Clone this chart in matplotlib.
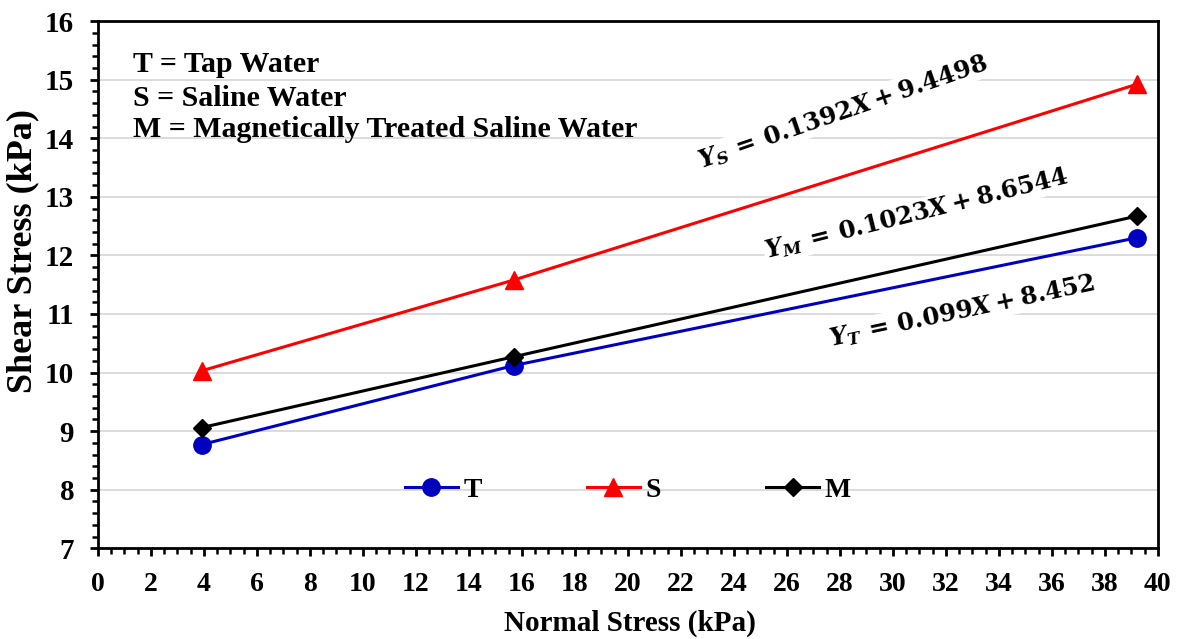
import numpy as np
import matplotlib
matplotlib.use("Agg")
import matplotlib.pyplot as plt
from matplotlib.ticker import MultipleLocator

# data
normal_stress = [3.92, 15.7, 39.2]
tap = [8.77, 10.12, 12.30]
saline = [10.03, 11.58, 14.92]
magnetic = [9.06, 10.27, 12.67]

series_names = ["T", "S", "M"]
notes = ["T = Tap Water", "S = Saline Water", "M = Magnetically Treated Saline Water"]
equations = [r"$\mathbfit{Y}_{\mathbfit{S}}\,=\,\mathbf{0.1392}\mathbfit{X} + \mathbf{9.4498}$",
             r"$\mathbfit{Y}_{\mathbfit{M}}\,=\,\mathbf{0.1023}\mathbfit{X} + \mathbf{8.6544}$",
             r"$\mathbfit{Y}_{\mathbfit{T}}\,=\,\mathbf{0.099}\mathbfit{X} + \mathbf{8.452}$"]

plt.rcParams["font.family"] = ["Liberation Serif", "DejaVu Serif"]
plt.rcParams["font.weight"] = "bold"
plt.rcParams["mathtext.fontset"] = "dejavuserif"

fig = plt.figure(figsize=(11.79, 6.39), dpi=100)
ax = fig.add_axes([0.083, 0.142, 0.899, 0.825])

ax.plot(normal_stress, tap, color="#0000C0", lw=2.2, marker="o", ms=12.5, label=series_names[0])
ax.plot(normal_stress, saline, color="#FF0000", lw=2.2, marker="^", ms=13, label=series_names[1])
ax.plot(normal_stress, magnetic, color="black", lw=2.2, marker="D", ms=9.5, label=series_names[2])

ax.set_xlim(0, 40)
ax.set_ylim(7, 16)
ax.xaxis.set_major_locator(MultipleLocator(2))
ax.xaxis.set_minor_locator(MultipleLocator(0.5))
ax.yaxis.set_major_locator(MultipleLocator(1))
ax.yaxis.set_minor_locator(MultipleLocator(0.2))
ax.grid(axis="y", which="major", color="#d9d9d9", lw=1.3)
ax.set_axisbelow(True)

for s in ax.spines.values():
    s.set_linewidth(2)
ax.tick_params(which="major", direction="out", length=6, width=2, labelsize=20)
ax.tick_params(axis="x", which="major", pad=11)
ax.tick_params(axis="y", which="major", pad=11, labelsize=21)
ax.tick_params(which="minor", direction="out", length=4, width=1.8)

fig.text(0.534, 0.024, "Normal Stress (kPa)", fontsize=21, fontweight="bold",
         ha="center", va="center")
fig.text(0.019, 0.607, "Shear Stress (kPa)", fontsize=26, fontweight="bold",
         ha="center", va="center", rotation=90)

note_y = [0.903, 0.839, 0.780]
for txt, y in zip(notes, note_y):
    ax.text(0.033, y, txt, transform=ax.transAxes, fontsize=21.5,
            fontweight="bold", va="baseline", ha="left")

eq_pos = [(28.1, 14.45, 19), (30.9, 12.71, 14), (32.6, 11.05, 12)]
for eq, (x, y, rot) in zip(equations, eq_pos):
    ax.text(x, y, eq, fontsize=17.5, ha="center", va="center", rotation=rot,
            bbox=dict(facecolor="white", edgecolor="none", pad=1))

ax.legend(loc="center", bbox_to_anchor=(0.5, 0.11), ncol=3, frameon=False,
          fontsize=20, handlelength=1.9, columnspacing=3.8, handletextpad=0.2)

fig.savefig("out.png", dpi=100)
